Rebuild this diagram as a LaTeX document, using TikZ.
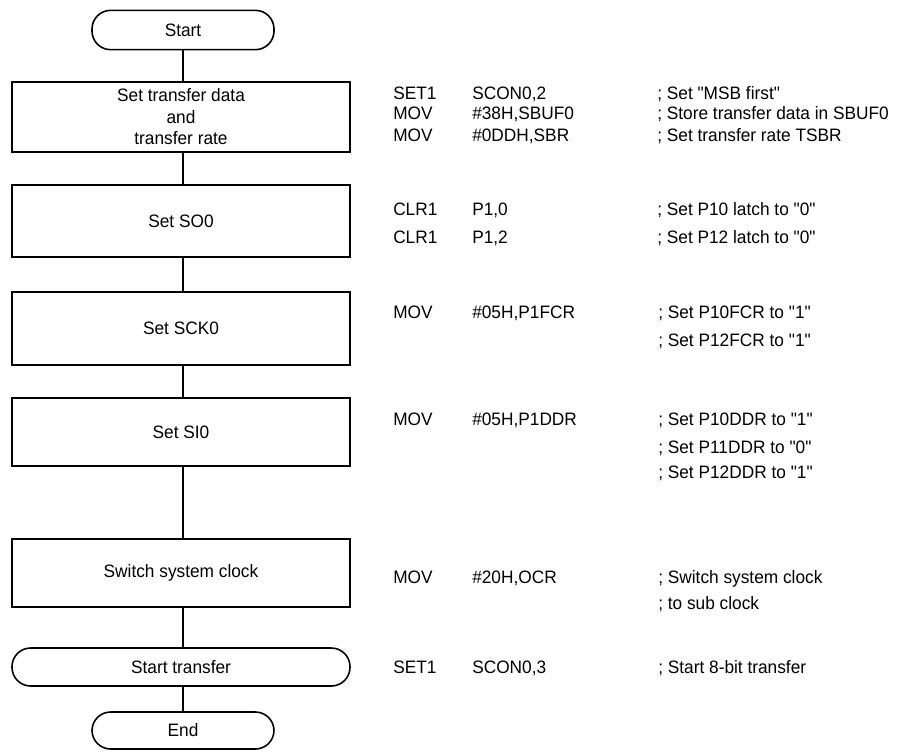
\documentclass[tikz,border=0pt]{standalone}
\usepackage{fontspec}
\setmainfont{Liberation Sans}[FakeStretch=0.96, Ligatures=TeXOff]
\begin{document}
\begin{tikzpicture}[x=0.75pt,y=-0.75pt,
  every node/.style={font=\fontsize{13.5pt}{16.1pt}\selectfont, text=black},
  term/.style={draw, line width=1.2pt, rounded corners=14pt, minimum height=28.5pt, inner sep=0pt},
  procbox/.style={draw, line width=1.2pt, minimum width=253.5pt, inner sep=0pt, align=center},
  code/.style={anchor=base west, inner sep=0pt},
  conn/.style={line width=1.2pt}]
\useasboundingbox (0,0) rectangle (910,751);
% flowchart
\node[term, minimum width=136.5pt, minimum height=29.5pt] (start) at (183,30) {Start};
\node[procbox, minimum height=52.5pt] (b1) at (181,117) {Set transfer data\\and\\transfer rate};
\node[procbox, minimum height=54pt] (b2) at (181,221) {Set SO0};
\node[procbox, minimum height=54.75pt] (b3) at (181,328.5) {Set SCK0};
\node[procbox, minimum height=51pt] (b4) at (181,432) {Set SI0};
\node[procbox, minimum height=51pt] (b5) at (181,573) {Switch system clock};
\node[term, minimum width=253.5pt] (st) at (181,667) {Start transfer};
\node[term, minimum width=136.5pt, minimum height=27.75pt] (end) at (183,730.5) {End};
\draw[conn] (start.south -| 183,0) -- (b1.north -| 183,0);
\draw[conn] (b1.south -| 183,0) -- (b2.north -| 183,0);
\draw[conn] (b2.south -| 183,0) -- (b3.north -| 183,0);
\draw[conn] (b3.south -| 183,0) -- (b4.north -| 183,0);
\draw[conn] (b4.south -| 183,0) -- (b5.north -| 183,0);
\draw[conn] (b5.south -| 183,0) -- (st.north -| 183,0);
\draw[conn] (st.south -| 183,0) -- (end.north -| 183,0);
% code listing
\node[code] (i1) at (393,99.5) {SET1};
\node[code] (o1) at (472,99.5) {SCON0,2};
\node[code] (c1) at (657,99.5) {; Set "MSB first"};
\node[code] (i2) at (393,119.5) {MOV};
\node[code] (o2) at (472,119.5) {\#38H,SBUF0};
\node[code] (c2) at (657,119.5) {; Store transfer data in SBUF0};
\node[code] (i3) at (393,141.5) {MOV};
\node[code] (o3) at (472,141.5) {\#0DDH,SBR};
\node[code] (c3) at (657,141.5) {; Set transfer rate TSBR};
\node[code] (i4) at (393,215.5) {CLR1};
\node[code] (o4) at (472,215.5) {P1,0};
\node[code] (c4) at (657,215.5) {; Set P10 latch to "0"};
\node[code] (i5) at (393,243.5) {CLR1};
\node[code] (o5) at (472,243.5) {P1,2};
\node[code] (c5) at (657,243.5) {; Set P12 latch to "0"};
\node[code] (i6) at (393,318.5) {MOV};
\node[code] (o6) at (472,318.5) {\#05H,P1FCR};
\node[code] (c6) at (658,318.5) {; Set P10FCR to "1"};
\node[code] (c7) at (658,346.5) {; Set P12FCR to "1"};
\node[code] (i8) at (393,425.5) {MOV};
\node[code] (o8) at (472,425.5) {\#05H,P1DDR};
\node[code] (c8) at (658,425.5) {; Set P10DDR to "1"};
\node[code] (c9) at (658,453.5) {; Set P11DDR to "0"};
\node[code] (c10) at (658,478.5) {; Set P12DDR to "1"};
\node[code] (i11) at (393,583.5) {MOV};
\node[code] (o11) at (472,583.5) {\#20H,OCR};
\node[code] (c11) at (658,583.5) {; Switch system clock};
\node[code] (c12) at (658,609.5) {; to sub clock};
\node[code] (i13) at (393,673.5) {SET1};
\node[code] (o13) at (472,673.5) {SCON0,3};
\node[code] (c13) at (658,673.5) {; Start 8-bit transfer};
\end{tikzpicture}
\end{document}
